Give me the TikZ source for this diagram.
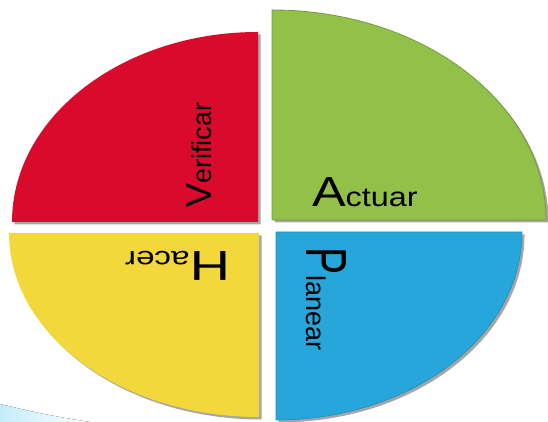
\documentclass[tikz,border=0pt]{standalone}
\usepackage{fontspec}
\setmainfont{Liberation Sans}
\usepackage{graphicx}
\usetikzlibrary{shadows}
\definecolor{pdcared}{HTML}{DA0A2D}
\definecolor{pdcagreen}{HTML}{92C048}
\definecolor{pdcayellow}{HTML}{F2D83A}
\definecolor{pdcablue}{HTML}{26A6DA}
\definecolor{swooshblue}{HTML}{C4ECFA}
\newcommand{\txtsize}[1]{\fontsize{#1}{#1}\selectfont}

\begin{document}
\begin{tikzpicture}[
  x=1pt, y=1pt,
  quarter/.style={drop shadow={shadow xshift=2.5pt, shadow yshift=-2.5pt, fill=black, opacity=0.35}},
  stage/.style={inner sep=0pt, outer sep=0pt, anchor=base west, text=black}
]
\useasboundingbox (0,0) rectangle (548,422);
% light swoosh in the corner
\fill[left color=swooshblue, right color=white] (0,18) .. controls (25,12) and (50,6) .. (90,0) -- (0,0) -- cycle;
% the four quarters
\fill[pdcared, quarter] (258,200) -- (258,390) arc[start angle=90, end angle=180, x radius=246pt, y radius=190pt] -- cycle;
\filldraw[fill=pdcagreen, draw=pdcagreen!80!black, line width=0.8pt, quarter] (272,202) -- (546,202) arc[start angle=0, end angle=90, x radius=274pt, y radius=210pt] -- cycle;
\fill[pdcayellow, quarter] (259,189) -- (9,189) arc[start angle=180, end angle=270, x radius=250pt, y radius=184pt] -- cycle;
\filldraw[fill=pdcablue, draw=pdcablue!85!black, line width=0.6pt, quarter] (276,190) -- (276,2) arc[start angle=270, end angle=360, x radius=246pt, y radius=188pt] -- cycle;
% labels
\node[stage, rotate=90] (verificar) at (211,214) {\txtsize{36}V\txtsize{27}erificar};
\node[stage, xscale=1.2] (actuar) at (312,215) {\txtsize{42}A\txtsize{27}ctuar};
\node[stage, rotate=180, xscale=1.33] (hacer) at (230,170) {\txtsize{42}H\txtsize{25}acer};
\node[stage, rotate=-90] (planear) at (306,174) {\scalebox{0.7}[1]{\txtsize{58}P}\txtsize{27}lanear};
\end{tikzpicture}
\end{document}
